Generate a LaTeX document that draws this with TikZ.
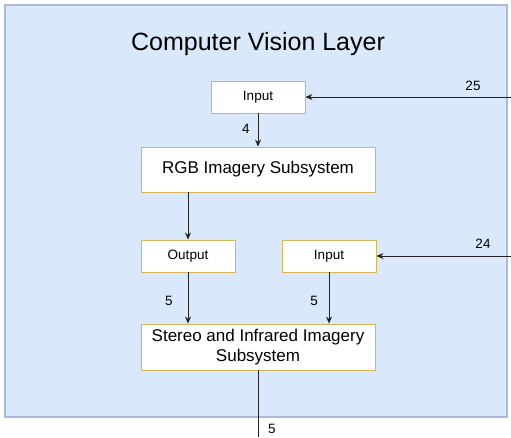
\documentclass[tikz,border=0pt]{standalone}
\usepackage{fontspec}
\setmainfont{Liberation Sans}
\usepackage{xcolor}
\usetikzlibrary{arrows.meta}
\definecolor{layerfill}{HTML}{DAE8FC}
\definecolor{layerdraw}{HTML}{A9BADD}
\definecolor{boxdraw}{HTML}{D6B656}
\definecolor{wire}{HTML}{222222}

\tikzset{
    block/.style={draw=boxdraw,fill=white,line width=0.9pt,inner sep=0pt,align=center,font=\fontsize{17}{20.5}\selectfont},
    port/.style={block,minimum width=94pt,minimum height=32pt,font=\fontsize{13.5}{16}\selectfont},
    wide/.style={block,minimum width=234pt,minimum height=45pt},
    link/.style={draw=wire,line width=0.8pt,-{Stealth[length=7pt,width=6pt]}},
    num/.style={inner sep=0pt,font=\fontsize{13.5}{16}\selectfont}
}

\begin{document}
\begin{tikzpicture}[x=1pt,y=-1pt]
    \useasboundingbox (0,0) rectangle (511,437);
    \draw[fill=layerfill,draw=layerdraw,line width=1.2pt] (5,5) rectangle (507,417);
    \node[font=\fontsize{25}{30}\selectfont] (title) at (258,44) {Computer Vision Layer};

    \node[port] (in1) at (258,97) {\raisebox{-1.5pt}{Input}};
    \node[wide] (rgb) at (258,169.5) {\raisebox{-1.5pt}{RGB Imagery Subsystem}};
    \node[port] (out) at (188,256) {\raisebox{-1.5pt}{Output}};
    \node[port] (in2) at (329,256) {\raisebox{-1.5pt}{Input}};
    \node[wide,minimum height=46pt] (stereo) at (258,347) {Stereo and Infrared Imagery\\Subsystem};

    \coordinate (src25) at (511,97);
    \coordinate (src24) at (511,256);
    \coordinate (sink) at (258,437);

    \draw[link] (src25)--(in1.east);
    \draw[link] (in1.south)--(rgb.north);
    \draw[link] (rgb.south-|out.north)--(out.north);
    \draw[link] (out.south)--(out.south|-stereo.north);
    \draw[link] (in2.south)--(in2.south|-stereo.north);
    \draw[link] (src24)--(in2.east);
    \draw[draw=wire,line width=0.8pt] (stereo.south)--(sink);

    \node[num] (n25) at (473,86) {25};
    \node[num] (n4) at (246,129) {4};
    \node[num] (n5a) at (169,301) {5};
    \node[num] (n5b) at (314,301) {5};
    \node[num] (n24) at (483,244) {24};
    \node[num] (n5c) at (272,429) {5};
\end{tikzpicture}
\end{document}
